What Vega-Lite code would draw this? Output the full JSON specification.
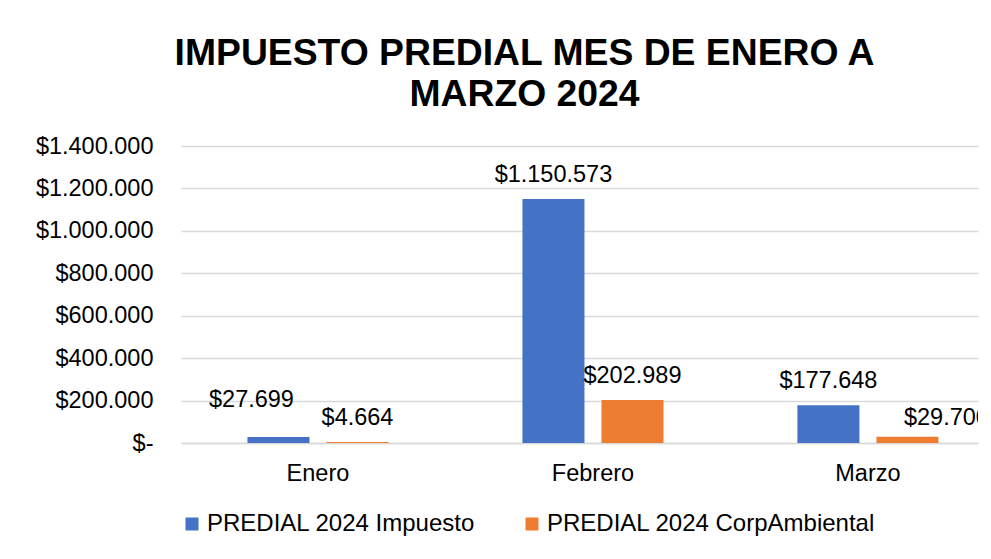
{
  "$schema": "https://vega.github.io/schema/vega-lite/v6.json",
  "autosize": "none",
  "padding": {"left": 181, "top": 146, "right": 13, "bottom": 116},
  "width": 797,
  "height": 297,
  "background": "white",
  "title": {
    "text": ["IMPUESTO PREDIAL MES DE ENERO A", "MARZO 2024"],
    "font": "Liberation Sans",
    "fontSize": 37.3,
    "fontWeight": "bold",
    "color": "#000000",
    "lineHeight": 41,
    "anchor": "middle",
    "dx": -55,
    "offset": 20
  },
  "config": {
    "locale": {
      "number": {"decimal": ",", "thousands": ".", "grouping": [3], "currency": ["$", ""]}
    },
    "view": {"stroke": null},
    "font": "Liberation Sans"
  },
  "data": {
    "values": [
      {"mes": "Enero", "serie": "PREDIAL 2024 Impuesto", "valor": 27699},
      {"mes": "Enero", "serie": "PREDIAL 2024 CorpAmbiental", "valor": 4664},
      {"mes": "Febrero", "serie": "PREDIAL 2024 Impuesto", "valor": 1150573},
      {"mes": "Febrero", "serie": "PREDIAL 2024 CorpAmbiental", "valor": 202989},
      {"mes": "Marzo", "serie": "PREDIAL 2024 Impuesto", "valor": 177648},
      {"mes": "Marzo", "serie": "PREDIAL 2024 CorpAmbiental", "valor": 29700}
    ]
  },
  "encoding": {
    "x": {
      "field": "mes",
      "type": "nominal",
      "sort": ["Enero", "Febrero", "Marzo"],
      "scale": {"paddingInner": 0.487, "paddingOuter": 0.1927, "align": 0.627},
      "axis": {
        "title": null,
        "labelAngle": 0,
        "labelFont": "Liberation Sans",
        "labelFontSize": 23.5,
        "labelColor": "#000000",
        "ticks": false,
        "labelPadding": 18,
        "domainColor": "#d9d9d9",
        "domainWidth": 1.5
      }
    },
    "xOffset": {
      "field": "serie",
      "type": "nominal",
      "sort": ["PREDIAL 2024 Impuesto", "PREDIAL 2024 CorpAmbiental"],
      "scale": {"paddingInner": 0.215, "paddingOuter": 0}
    },
    "y": {
      "field": "valor",
      "type": "quantitative",
      "scale": {"domain": [0, 1400000]},
      "axis": {
        "title": null,
        "values": [0, 200000, 400000, 600000, 800000, 1000000, 1200000, 1400000],
        "format": "$,.0f",
        "labelExpr": "datum.value == 0 ? '$-\u00a0\u00a0' : datum.label",
        "labelOverlap": false,
        "labelFont": "Liberation Sans",
        "labelFontSize": 23.5,
        "labelColor": "#000000",
        "ticks": false,
        "domain": false,
        "labelPadding": 28,
        "gridColor": "#d9d9d9",
        "gridWidth": 1.5
      }
    }
  },
  "layer": [
    {
      "mark": {"type": "bar"},
      "encoding": {
        "color": {
          "field": "serie",
          "type": "nominal",
          "sort": ["PREDIAL 2024 Impuesto", "PREDIAL 2024 CorpAmbiental"],
          "scale": {"range": ["#4472C4", "#ED7D31"]},
          "legend": {
            "title": null,
            "orient": "none",
            "direction": "horizontal",
            "legendX": -1,
            "legendY": 366,
            "symbolType": "square",
            "symbolSize": 169,
            "symbolStrokeWidth": 0,
            "labelFont": "Liberation Sans",
            "labelFontSize": 24,
            "labelColor": "#000000",
            "labelOffset": 3,
            "columnPadding": 44,
            "labelLimit": 400
          }
        }
      }
    },
    {
      "transform": [
        {"filter": "!((datum.mes == 'Enero' && datum.serie == 'PREDIAL 2024 Impuesto') || (datum.mes == 'Marzo' && datum.serie == 'PREDIAL 2024 CorpAmbiental'))"}
      ],
      "mark": {
        "type": "text",
        "baseline": "middle",
        "dy": -24,
        "font": "Liberation Sans",
        "fontSize": 23.5,
        "color": "#000000",
        "clip": true
      },
      "encoding": {
        "text": {"field": "valor", "type": "quantitative", "format": "$,.0f"}
      }
    },
    {
      "transform": [
        {"filter": "datum.mes == 'Enero' && datum.serie == 'PREDIAL 2024 Impuesto'"}
      ],
      "mark": {
        "type": "text",
        "baseline": "middle",
        "dx": -27,
        "dy": -37,
        "font": "Liberation Sans",
        "fontSize": 23.5,
        "color": "#000000",
        "clip": true
      },
      "encoding": {
        "text": {"field": "valor", "type": "quantitative", "format": "$,.0f"}
      }
    },
    {
      "transform": [
        {"filter": "datum.mes == 'Marzo' && datum.serie == 'PREDIAL 2024 CorpAmbiental'"}
      ],
      "mark": {
        "type": "text",
        "baseline": "middle",
        "dx": 39,
        "dy": -19,
        "font": "Liberation Sans",
        "fontSize": 23.5,
        "color": "#000000",
        "clip": true
      },
      "encoding": {
        "text": {"field": "valor", "type": "quantitative", "format": "$,.0f"}
      }
    }
  ]
}
